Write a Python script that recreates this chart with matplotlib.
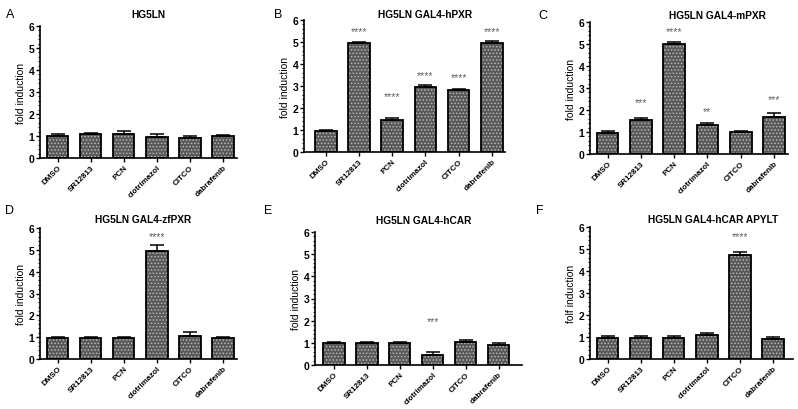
import matplotlib.pyplot as plt
from matplotlib.ticker import MultipleLocator

plt.rcParams['font.family'] = ['Liberation Sans', 'DejaVu Sans']
plt.rcParams['hatch.linewidth'] = 0.7

compuestos = ['DMSO', 'SR12813', 'PCN', 'clotrimazol', 'CITCO', 'dabrafenib']

# valores (fold induction) y error de cada panel
a_val = [1.02, 1.08, 1.10, 0.95, 0.92, 0.98]
a_err = [0.08, 0.07, 0.12, 0.12, 0.10, 0.07]
a_sig = ['', '', '', '', '', '']
a_sig_y = [0, 0, 0, 0, 0, 0]

b_val = [0.97, 4.95, 1.47, 2.97, 2.80, 4.95]
b_err = [0.05, 0.07, 0.06, 0.08, 0.05, 0.08]
b_sig = ['', '****', '****', '****', '****', '****']
b_sig_y = [0, 5.5, 2.56, 3.5, 3.4, 5.5]

c_val = [0.97, 1.55, 5.00, 1.30, 1.00, 1.70]
c_err = [0.08, 0.07, 0.10, 0.10, 0.05, 0.18]
c_sig = ['', '***', '****', '**', '', '***']
c_sig_y = [0, 2.36, 5.59, 1.97, 0, 2.5]

d_val = [0.97, 0.97, 0.97, 4.95, 1.05, 0.97]
d_err = [0.05, 0.05, 0.06, 0.25, 0.20, 0.06]
d_sig = ['', '', '', '****', '', '']
d_sig_y = [0, 0, 0, 5.63, 0, 0]

e_val = [0.97, 0.97, 0.97, 0.45, 1.02, 0.92]
e_err = [0.06, 0.08, 0.07, 0.12, 0.10, 0.08]
e_sig = ['', '', '', '***', '', '']
e_sig_y = [0, 0, 0, 1.98, 0, 0]

f_val = [0.97, 0.97, 0.97, 1.07, 4.75, 0.92]
f_err = [0.06, 0.07, 0.07, 0.12, 0.12, 0.08]
f_sig = ['', '', '', '', '****', '']
f_sig_y = [0, 0, 0, 0, 5.6, 0]

titulos = ['HG5LN', 'HG5LN GAL4-hPXR', 'HG5LN GAL4-mPXR',
           'HG5LN GAL4-zfPXR', 'HG5LN GAL4-hCAR', 'HG5LN GAL4-hCAR APYLT']
ylabels = ['fold induction'] * 5 + ['folf induction']
letras = ['A', 'B', 'C', 'D', 'E', 'F']

paneles = [
    (a_val, a_err, a_sig, a_sig_y),
    (b_val, b_err, b_sig, b_sig_y),
    (c_val, c_err, c_sig, c_sig_y),
    (d_val, d_err, d_sig, d_sig_y),
    (e_val, e_err, e_sig, e_sig_y),
    (f_val, f_err, f_sig, f_sig_y),
]

W, H = 798, 410
# (x izquierda, x derecha, y de 6, y de 0, centro primera barra, separacion) en pixeles
cajas = [
    (40, 237, 27, 159, 57.5, 33.1),
    (304, 505, 21, 153, 325.8, 33.2),
    (590, 788, 23, 155, 607.5, 33.3),
    (40, 237, 229, 360, 57.5, 33.1),
    (315, 522, 233, 366, 334, 32.9),
    (590, 793, 228, 360, 607.5, 33.1),
]
# posiciones de titulo y letra
pos_titulo = [(148, 15), (425, 15), (717, 16), (143, 220), (424, 221), (713, 220)]
pos_letra = [(10, 15), (278, 15), (543, 16), (10, 211), (268, 211), (540, 211)]

fig = plt.figure(figsize=(W / 100, H / 100), dpi=100)

for i, (vals, errs, sig, sig_y) in enumerate(paneles):
    x0, x1, y6, y0, c0, sep = cajas[i]
    ax = fig.add_axes([x0 / W, 1 - y0 / H, (x1 - x0) / W, (y0 - y6) / H])
    xs = list(range(len(compuestos)))
    # relleno gris oscuro con puntos claros, y borde negro encima
    ax.bar(xs, vals, width=0.65, color='#585858', linewidth=0, zorder=2)
    ax.bar(xs, vals, width=0.65, color='none', edgecolor='#b8b8b8',
           linewidth=0, hatch='.....', zorder=2.1)
    ax.bar(xs, vals, width=0.65, color='none', edgecolor='black',
           linewidth=1.3, zorder=2.2)
    ax.errorbar(xs, vals, yerr=[[0] * len(errs), errs], fmt='none',
                ecolor='black', elinewidth=1.1, capsize=5, capthick=1.1, zorder=3)
    for x, s, sy in zip(xs, sig, sig_y):
        if s:
            ax.text(x, sy, s, ha='center', va='center', fontsize=7.5, color='#606060')
    ax.set_xlim((x0 - c0) / sep, (x1 - c0) / sep)
    ax.set_ylim(0, 6)
    ax.yaxis.set_major_locator(MultipleLocator(1))
    ax.yaxis.set_minor_locator(MultipleLocator(0.2))
    ax.set_xticks(xs)
    ax.set_xticklabels(compuestos, rotation=45, ha='right', rotation_mode='anchor',
                       fontsize=5.8, fontweight='bold')
    ax.tick_params(axis='y', which='major', length=3, width=1, labelsize=7.5, pad=1)
    ax.tick_params(axis='y', which='minor', length=1.5, width=0.8)
    ax.tick_params(axis='x', length=3, width=1, pad=1)
    for lab in ax.get_yticklabels():
        lab.set_fontweight('bold')
    ax.spines['top'].set_visible(False)
    ax.spines['right'].set_visible(False)
    ax.spines['left'].set_linewidth(1.2)
    ax.spines['bottom'].set_linewidth(1.2)
    ax.set_ylabel(ylabels[i], fontsize=7.5, labelpad=2)

    tx, ty = pos_titulo[i]
    fig.text(tx / W, 1 - ty / H, titulos[i], ha='center', va='center',
             fontsize=7.3, fontweight='bold')
    lx, ly = pos_letra[i]
    fig.text(lx / W, 1 - ly / H, letras[i], ha='center', va='center', fontsize=9)

fig.savefig('out.png', dpi=100, facecolor='white')
